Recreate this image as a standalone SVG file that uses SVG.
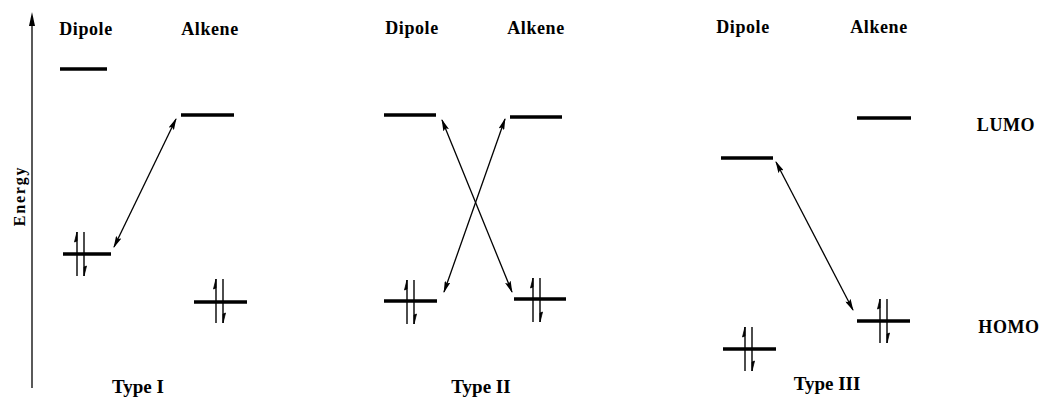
<svg xmlns="http://www.w3.org/2000/svg" width="1045" height="398" viewBox="0 0 1045 398">
<style>
text{font-family:"Liberation Serif","Times New Roman",serif;font-weight:bold;fill:#000;text-anchor:middle}
.lbl{font-size:18px;letter-spacing:0.6px}
.type{font-size:19px}
.lvl{stroke:#000;stroke-width:3.5;fill:none}
.conn{stroke:#000;stroke-width:1.3;fill:none;marker-start:url(#ah);marker-end:url(#ah)}
.spin{stroke:#000;stroke-width:1.4;fill:none}
</style>
<defs>
<marker id="ah" viewBox="0 0 12 6" refX="11" refY="3" markerWidth="12" markerHeight="6" markerUnits="userSpaceOnUse" orient="auto-start-reverse">
<path d="M0,0 L12,3 L0,6 L2,3 Z" fill="#000"/>
</marker>
<g id="pair">
<line class="spin" x1="-3.5" y1="-22" x2="-3.5" y2="22"/>
<path d="M-3.5,-22 L-6,-12 L-3.5,-13 Z" fill="#000" stroke="#000" stroke-width="0.8"/>
<line class="spin" x1="3.5" y1="-22" x2="3.5" y2="22"/>
<path d="M3.5,22 L6,12 L3.5,13 Z" fill="#000" stroke="#000" stroke-width="0.8"/>
</g>
</defs>
<g id="axis">
<line x1="32" y1="22" x2="32" y2="388" stroke="#000" stroke-width="1.3"/>
<path d="M32,12 L35,26 L29,26 Z" fill="#000"/>
<text transform="translate(25,196) rotate(-90)" style="font-size:16px;letter-spacing:1.8px">Energy</text>
</g>
<g id="type1">
<text class="lbl" x="86" y="35">Dipole</text>
<text class="lbl" x="210" y="35">Alkene</text>
<line class="lvl" x1="60" y1="69" x2="107" y2="69"/>
<line class="lvl" x1="181" y1="115" x2="234" y2="115"/>
<line class="lvl" x1="63" y1="254" x2="111" y2="254"/>
<use href="#pair" x="80.5" y="254"/>
<line class="lvl" x1="194" y1="302" x2="247" y2="302"/>
<use href="#pair" x="219.5" y="301"/>
<text class="type" x="138" y="393">Type I</text>
</g>
<g id="type2">
<text class="lbl" x="412" y="34">Dipole</text>
<text class="lbl" x="536" y="34">Alkene</text>
<line class="lvl" x1="384" y1="115" x2="436" y2="115"/>
<line class="lvl" x1="510" y1="117" x2="562" y2="117"/>
<line class="lvl" x1="384" y1="301" x2="437" y2="301"/>
<use href="#pair" x="410.5" y="302"/>
<line class="lvl" x1="514" y1="299" x2="566" y2="299"/>
<use href="#pair" x="536.5" y="300"/>
<text class="type" x="481" y="393">Type II</text>
</g>
<g id="type3">
<text class="lbl" x="743" y="33">Dipole</text>
<text class="lbl" x="879" y="33">Alkene</text>
<line class="lvl" x1="721" y1="158" x2="773" y2="158"/>
<line class="lvl" x1="857" y1="118" x2="911" y2="118"/>
<line class="lvl" x1="723" y1="349" x2="776" y2="349"/>
<use href="#pair" x="748.5" y="349"/>
<line class="lvl" x1="857" y1="321" x2="910" y2="321"/>
<use href="#pair" x="883.5" y="321"/>
<text class="type" x="827" y="390">Type III</text>
</g>
<g id="side-labels">
<text class="lbl" x="1006" y="131">LUMO</text>
<text class="lbl" x="1009" y="333">HOMO</text>
</g>
<g id="connectors">
<line class="conn" x1="176" y1="119" x2="114" y2="247"/>
<line class="conn" x1="442" y1="120" x2="512" y2="292"/>
<line class="conn" x1="505" y1="119" x2="444" y2="292"/>
<line class="conn" x1="776" y1="162" x2="853" y2="310"/>
</g>
</svg>
